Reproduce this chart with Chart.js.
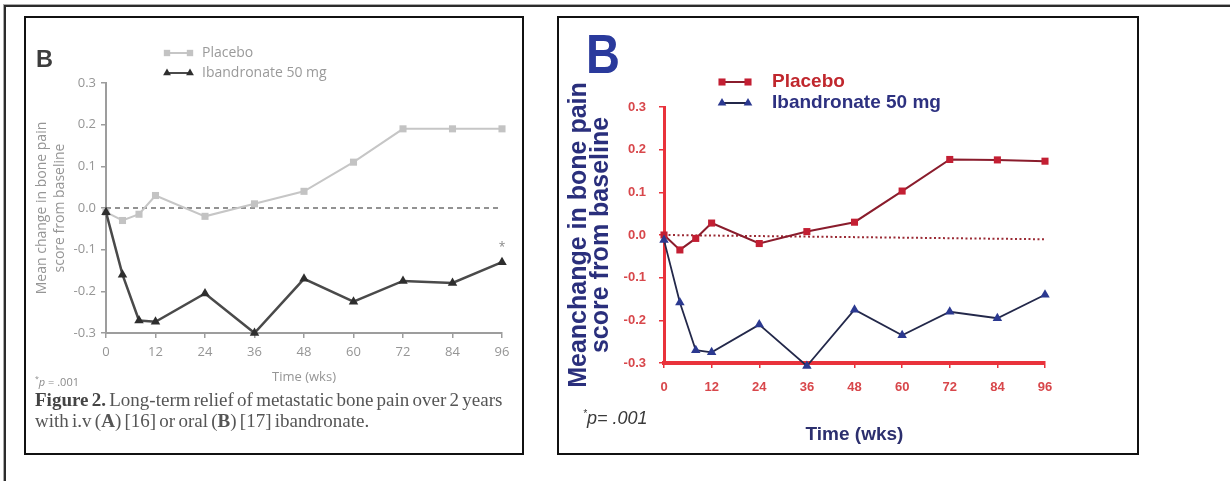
<!DOCTYPE html>
<html>
<head>
<meta charset="utf-8">
<script src="https://cdn.jsdelivr.net/npm/chart.js@4.4.1/dist/chart.umd.min.js"></script>
<style>
  html, body { margin: 0; padding: 0; background: #fff; }
  body { width: 1230px; height: 481px; position: relative; overflow: hidden; }
  .frame { position: absolute; left: 4px; top: 5px; width: 1400px; height: 600px; border: 2px solid #2b2b2b; box-shadow: 0 0 0 1px #aaa; }
  .panel { position: absolute; top: 16px; height: 439px; box-sizing: border-box; border: 2px solid #111; background: #fff; }
  #panelLeft { left: 24px; width: 500px; }
  #panelRight { left: 557px; width: 582px; }
  .panel canvas { position: absolute; left: 0; top: 0; }
  .txt { position: absolute; white-space: nowrap; line-height: 1; }
</style>
</head>
<body>
<div class="frame"></div>
<div class="panel" id="panelLeft"><canvas id="chartLeft" width="496" height="436"></canvas></div>
<div class="panel" id="panelRight"><canvas id="chartRight" width="578" height="435"></canvas></div>

<div class="txt" style="left:36px; top:46px; font: bold 23.5px 'Liberation Sans', Arial, sans-serif; color:#3c3c3c;">B</div>
<div class="txt" style="left:35px; top:374px; font: 11px 'Open Sans', sans-serif; color:#8a8a8a;"><sup style="font-size:7px">*</sup><i>p</i> = .001</div>
<div class="txt" style="left:35px; top:389px; font: 19px 'Liberation Serif', 'Times New Roman', serif; line-height: 21px; color:#555; letter-spacing:0; word-spacing:-1.5px;"><b style="color:#444">Figure 2.</b> Long-term relief of metastatic bone pain over 2 years<br>with i.v (<b>A</b>) [16] or oral (<b>B</b>) [17] ibandronate.</div>

<div class="txt" style="left:586px; top:21px; font: bold 47px 'Liberation Sans', Arial, sans-serif; color:#2a3a9c; transform: scaleY(1.18); transform-origin: 0 0;">B</div>
<div class="txt" style="left:583px; top:408px; font: italic 18px 'Liberation Sans', Arial, sans-serif; color:#3a3a3a;"><sup style="font-size:10px">*</sup>p= .001</div>

<script>
// shared axes
const weeks = [0, 4, 8, 12, 24, 36, 48, 60, 72, 84, 96];
const weekTicks = [0, 12, 24, 36, 48, 60, 72, 84, 96];
const changeTicks = [-0.3, -0.2, -0.1, 0, 0.1, 0.2, 0.3];
const baselineWeeks = [0, 96];
const seriesNames = ["Placebo", "Ibandronate 50 mg"];

// left panel: printed grey figure
const placeboPrint = [-0.01, -0.03, -0.015, 0.03, -0.02, 0.01, 0.04, 0.11, 0.19, 0.19, 0.19];
const ibandronatePrint = [-0.01, -0.16, -0.27, -0.273, -0.205, -0.30, -0.17, -0.225, -0.175, -0.18, -0.13];
const baselinePrint = [0, 0];

// right panel: coloured redraw
const placeboColour = [0.0, -0.035, -0.008, 0.028, -0.02, 0.008, 0.03, 0.103, 0.177, 0.176, 0.173];
const ibandronateColour = [-0.012, -0.158, -0.27, -0.275, -0.21, -0.307, -0.175, -0.235, -0.18, -0.195, -0.14];
const baselineColour = [0, -0.01];

function toPoints(xs, ys) {
  return xs.map((x, i) => ({ x: x, y: ys[i] }));
}

function drawMarker(ctx, style, x, y, r, fill) {
  ctx.fillStyle = fill;
  ctx.beginPath();
  if (style === "triangle") {
    ctx.moveTo(x, y - r);
    ctx.lineTo(x + r * 0.866, y + r * 0.5);
    ctx.lineTo(x - r * 0.866, y + r * 0.5);
    ctx.closePath();
  } else {
    const s = r * Math.SQRT1_2;
    ctx.rect(x - s, y - s, 2 * s, 2 * s);
  }
  ctx.fill();
}

// legend rows (line with a marker at each end) and the asterisk note
const seriesKey = {
  id: "seriesKey",
  afterDraw(chart, args, opts) {
    const ctx = chart.ctx;
    ctx.save();
    opts.rows.forEach((row, i) => {
      const ds = chart.data.datasets[row.dataset];
      const y = opts.y + i * opts.rowGap;
      ctx.strokeStyle = ds.borderColor;
      ctx.lineWidth = opts.lineWidth;
      ctx.beginPath();
      ctx.moveTo(opts.x, y);
      ctx.lineTo(opts.x + opts.length, y);
      ctx.stroke();
      drawMarker(ctx, ds.pointStyle, opts.x, y, opts.radius, ds.pointBackgroundColor);
      drawMarker(ctx, ds.pointStyle, opts.x + opts.length, y, opts.radius, ds.pointBackgroundColor);
      ctx.font = opts.font;
      ctx.fillStyle = row.color;
      ctx.textBaseline = "middle";
      ctx.textAlign = "left";
      ctx.fillText(ds.label, opts.x + opts.length + opts.textGap, y);
    });
    if (opts.note) {
      const pt = chart.getDatasetMeta(opts.note.dataset).data[opts.note.index];
      ctx.font = opts.note.font;
      ctx.fillStyle = opts.note.color;
      ctx.textAlign = "center";
      ctx.textBaseline = "middle";
      ctx.fillText(opts.note.text, pt.x, pt.y + opts.note.dy);
    }
    ctx.restore();
  }
};

function buildChart(id, p) {
  return new Chart(document.getElementById(id), {
    type: "line",
    data: { datasets: p.datasets },
    options: {
      responsive: false,
      animation: false,
      devicePixelRatio: 1,
      layout: { padding: p.padding },
      plugins: { legend: { display: false }, tooltip: { enabled: false }, seriesKey: p.key },
      scales: {
        x: {
          type: "linear",
          min: 0,
          max: 96,
          afterBuildTicks: (s) => { s.ticks = weekTicks.map((v) => ({ value: v })); },
          afterFit: (s) => { s.height = p.xHeight; },
          border: { display: true, color: p.axisColor, width: p.xAxisWidth },
          grid: { drawOnChartArea: false, color: p.axisColor, lineWidth: p.tickWidth, tickLength: 5 },
          ticks: { color: p.tickColor, font: p.tickFont, padding: p.xTickPad, maxRotation: 0, autoSkip: false, callback: (v) => String(v) },
          title: { display: true, text: "Time (wks)", color: p.xTitleColor, font: p.xTitleFont, padding: 0 },
        },
        y: {
          type: "linear",
          min: -0.3,
          max: 0.3,
          afterBuildTicks: (s) => { s.ticks = changeTicks.map((v) => ({ value: v })); },
          afterFit: (s) => { s.width = p.yWidth; },
          border: { display: true, color: p.axisColor, width: p.yAxisWidth },
          grid: { drawOnChartArea: false, color: p.axisColor, lineWidth: p.tickWidth, tickLength: 5 },
          ticks: { color: p.tickColor, font: p.tickFont, padding: p.yTickPad, callback: (v) => v.toFixed(1) },
          title: { display: true, text: p.yTitle, color: p.yTitleColor, font: p.yTitleFont, padding: { top: p.yTitlePad, bottom: 0 } },
        },
      },
    },
    plugins: [seriesKey],
  });
}

// Left: grey print
buildChart("chartLeft", {
  padding: { left: 0, right: 20, top: 65, bottom: 69 },
  xHeight: 52,
  yWidth: 80,
  axisColor: "#9d9d9d",
  xAxisWidth: 2,
  yAxisWidth: 2,
  tickWidth: 1.5,
  tickColor: "#959595",
  tickFont: { family: "'Open Sans', sans-serif", size: 13 },
  xTickPad: 6,
  yTickPad: 5,
  xTitleColor: "#959595",
  xTitleFont: { family: "'Open Sans', sans-serif", size: 13 },
  yTitle: ["Mean change in bone pain", "score from baseline"],
  yTitleColor: "#959595",
  yTitleFont: { family: "'Open Sans', sans-serif", size: 14, lineHeight: 18 / 14 },
  yTitlePad: 7,
  datasets: [
    {
      label: seriesNames[0],
      data: toPoints(weeks, placeboPrint),
      borderColor: "#c6c6c6",
      borderWidth: 2,
      pointStyle: "rect",
      pointRadius: 5,
      pointBorderWidth: 0,
      pointBackgroundColor: "#c3c3c3",
      clip: false,
      order: 1,
    },
    {
      label: seriesNames[1],
      data: toPoints(weeks, ibandronatePrint),
      borderColor: "#4a4a4a",
      borderWidth: 2.5,
      pointStyle: "triangle",
      pointRadius: 5.5,
      pointBorderWidth: 0,
      pointBackgroundColor: "#2e2e2e",
      clip: false,
      order: 0,
    },
    {
      data: toPoints(baselineWeeks, baselinePrint),
      borderColor: "#6f6f6f",
      borderWidth: 1.5,
      borderDash: [5, 4],
      pointRadius: 0,
      order: 2,
    },
  ],
  key: {
    x: 141, y: 35, rowGap: 20, length: 23, radius: 4.5, lineWidth: 2, textGap: 12,
    font: "14px 'Open Sans', sans-serif",
    rows: [{ dataset: 0, color: "#9a9a9a" }, { dataset: 1, color: "#9a9a9a" }],
    note: { dataset: 1, index: 10, text: "*", dy: -15, font: "12px 'Open Sans', sans-serif", color: "#888" },
  },
});

// Right: colour redraw
buildChart("chartRight", {
  padding: { left: 0, right: 92, top: 89, bottom: 7 },
  xHeight: 83,
  yWidth: 105,
  axisColor: "#e9323b",
  xAxisWidth: 4,
  yAxisWidth: 3,
  tickWidth: 1.5,
  tickColor: "#d8474b",
  tickFont: { family: "'Liberation Sans', Arial, sans-serif", size: 13, weight: "bold" },
  xTickPad: 12,
  yTickPad: 13,
  xTitleColor: "#2c2f6e",
  xTitleFont: { family: "'Liberation Sans', Arial, sans-serif", size: 19, weight: "bold" },
  yTitle: ["Meanchange in bone pain", "score from baseline"],
  yTitleColor: "#2a2f7c",
  yTitleFont: { family: "'Liberation Sans', Arial, sans-serif", size: 25, weight: "bold", lineHeight: 22 / 25 },
  yTitlePad: 9,
  datasets: [
    {
      label: seriesNames[0],
      data: toPoints(weeks, placeboColour),
      borderColor: "#8a1c2c",
      borderWidth: 2,
      pointStyle: "rect",
      pointRadius: 5,
      pointBorderWidth: 0,
      pointBackgroundColor: "#c31f33",
      clip: false,
      order: 1,
    },
    {
      label: seriesNames[1],
      data: toPoints(weeks, ibandronateColour),
      borderColor: "#23284a",
      borderWidth: 1.8,
      pointStyle: "triangle",
      pointRadius: 5.5,
      pointBorderWidth: 0,
      pointBackgroundColor: "#2b3990",
      clip: false,
      order: 0,
    },
    {
      data: toPoints(baselineWeeks, baselineColour),
      borderColor: "#9b2b35",
      borderWidth: 2,
      borderDash: [2, 2.5],
      pointRadius: 0,
      order: 2,
    },
  ],
  key: {
    x: 163, y: 64, rowGap: 21, length: 26, radius: 5, lineWidth: 2, textGap: 24,
    font: "bold 19px 'Liberation Sans', Arial, sans-serif",
    rows: [{ dataset: 0, color: "#c0272d" }, { dataset: 1, color: "#2d3180" }],
  },
});
</script>
</body>
</html>
